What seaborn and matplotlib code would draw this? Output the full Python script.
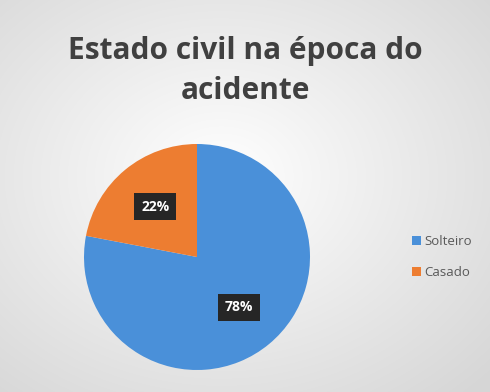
import numpy as np
import matplotlib
matplotlib.use("Agg")
import matplotlib.pyplot as plt
import seaborn as sns

categories = ["Solteiro", "Casado"]
values = [78, 22]
colors = ["#4a90d9", "#ed7d31"]
title = "Estado civil na época do\nacidente"

sns.set_style("white")
plt.rcParams['font.family'] = ['Open Sans', 'DejaVu Sans']

W, H = 490, 392
fig = plt.figure(figsize=(W / 100, H / 100), dpi=100)

# radial gradient background
bg = fig.add_axes([0, 0, 1, 1], zorder=0)
yy, xx = np.mgrid[0:H, 0:W]
d = np.sqrt(((xx - W * 0.45) / (W * 0.75)) ** 2 + ((yy - H * 0.45) / (H * 0.75)) ** 2)
d = np.clip(d, 0, 1)
c_in = np.array([1.0, 1.0, 1.0])
c_out = np.array([0.84, 0.84, 0.84])
img = c_in[None, None, :] * (1 - d[..., None]) + c_out[None, None, :] * d[..., None]
bg.imshow(img, extent=[0, 1, 0, 1], aspect="auto")
bg.axis("off")

# pie axes: center (197,257), radius ~113 px
r = 113
cx, cy = 197, 257
ax = fig.add_axes([(cx - r) / W, 1 - (cy + r) / H, 2 * r / W, 2 * r / H], zorder=1)
wedges, _ = ax.pie(values, colors=colors, startangle=90, counterclock=False,
                   radius=1.0, wedgeprops=dict(linewidth=0))
ax.set_xlim(-1, 1)
ax.set_ylim(-1, 1)
ax.set_aspect("equal")
ax.axis("off")

# data labels
for w, v in zip(wedges, values):
    theta = np.deg2rad((w.theta1 + w.theta2) / 2)
    rr = 0.58
    ax.text(rr * np.cos(theta), rr * np.sin(theta), f"{v}%", ha="center", va="center",
            color="white", fontsize=10, fontweight="bold",
            bbox=dict(boxstyle="square,pad=0.5", fc="#262626", ec="none"))

fig.text(0.5, 1 - 71 / H, title, ha="center", va="center", fontsize=21.5,
         fontweight="bold", color="#404040", linespacing=1.4)

leg = fig.legend(wedges, categories, loc="center left", bbox_to_anchor=(400 / W, 1 - 257 / H),
                 frameon=False, fontsize=9.5, handlelength=0.7, handleheight=0.7,
                 labelspacing=1.4, handletextpad=0.25)
for t in leg.get_texts():
    t.set_color("#595959")

fig.savefig("out.png", dpi=100)
